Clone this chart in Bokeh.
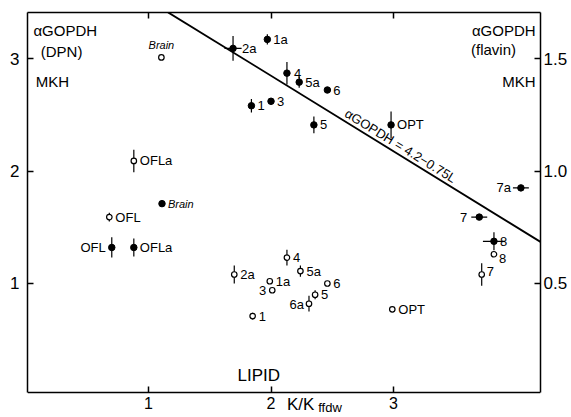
import numpy as np
from bokeh.plotting import figure
from bokeh.models import ColumnDataSource, Range1d, LinearAxis, FixedTicker, Label
from bokeh.core.properties import value
from bokeh.embed import file_html
from bokeh.resources import INLINE

# ---------------- data ----------------
# filled symbols
filled_labels = ["2a", "1a", "4", "5a", "6", "1", "3", "5", "OPT", "7a", "7", "8", "Brain", "OFL", "OFLa"]
filled_x = [1.69, 1.97, 2.13, 2.23, 2.46, 1.84, 2.00, 2.35, 2.98, 4.04, 3.70, 3.82, 1.11, 0.70, 0.88]
filled_y = [3.09, 3.17, 2.87, 2.79, 2.72, 2.58, 2.62, 2.41, 2.41, 1.85, 1.59, 1.375, 1.71, 1.32, 1.32]
filled_xerr = [0.07, 0, 0, 0, 0, 0, 0, 0, 0, 0.065, 0.065, 0.09, 0, 0, 0]
filled_yerr = [0.11, 0.045, 0.10, 0.05, 0, 0.06, 0.03, 0.075, 0.12, 0, 0, 0.08, 0, 0.09, 0.08]

# open symbols
open_labels = ["Brain", "OFLa", "OFL", "2a", "4", "5a", "1a", "3", "6", "5", "6a", "1", "OPT", "8", "7"]
open_x = [1.105, 0.88, 0.68, 1.70, 2.13, 2.24, 1.99, 2.01, 2.46, 2.36, 2.31, 1.85, 2.99, 3.82, 3.72]
open_y = [3.01, 2.09, 1.59, 1.08, 1.23, 1.11, 1.02, 0.94, 1.00, 0.90, 0.82, 0.71, 0.77, 1.26, 1.08]
open_yerr = [0, 0.10, 0.04, 0.08, 0.07, 0.05, 0, 0, 0, 0.04, 0.07, 0.03, 0, 0, 0.10]

# regression line end points (left axis units)
fit_x = [1.16, 4.20]
fit_y = [3.41, 1.37]
fit_text = "\u03b1GOPDH = 4.2\u22120.75L"

bottom_ticks = [1, 2, 3]
left_ticks = [1, 2, 3]
right_ticks = [0.5, 1.0, 1.5]
right_tick_labels = ["0.5", "1.0", "1.5"]

# ---------------- figure ----------------
FONT = "Liberation Sans"
W, H = 571, 417
BL, BR, BT = 27, 31, 12
X0, X1 = 0.012, 4.20          # visible x extent of the box
Y0, Y1 = 0.031, 3.409         # visible y extent of the box (left axis units)
PX_PER_Y = 112.5
Y_EXT = Y0 - 25 / PX_PER_Y    # room under the box for the x tick labels
p = figure(width=W, height=H, output_backend="svg", toolbar_location=None,
           x_range=Range1d(X0, X1), y_range=Range1d(Y_EXT, Y1),
           x_axis_location=None, y_axis_location=None,
           min_border_left=BL, min_border_right=BR, min_border_top=BT, min_border_bottom=0)
p.background_fill_color = "white"
p.border_fill_color = "white"
p.outline_line_color = None
p.xgrid.visible = False
p.ygrid.visible = False
p.extra_y_ranges = {"right": Range1d(Y_EXT / 2, Y1 / 2)}


def style_axis(ax, size="16px", standoff=3):
    ax.axis_line_color = "black"
    ax.axis_line_width = 1.5
    ax.major_tick_in = 6
    ax.major_tick_out = 0
    ax.major_tick_line_width = 1.5
    ax.minor_tick_line_color = None
    ax.major_label_text_font = FONT
    ax.major_label_text_font_size = size
    ax.major_label_text_color = "black"
    ax.major_label_standoff = standoff


bx = LinearAxis(ticker=FixedTicker(ticks=bottom_ticks), fixed_location=Y0, bounds=(X0, X1))
style_axis(bx, "16px", 4)
p.add_layout(bx, "below")

lx = LinearAxis(ticker=FixedTicker(ticks=left_ticks), bounds=(Y0, Y1))
style_axis(lx, "17px", 8)
p.add_layout(lx, "left")

tx = LinearAxis(ticker=FixedTicker(ticks=bottom_ticks))
style_axis(tx, "8px", 0)
tx.major_label_overrides = {t: "" for t in bottom_ticks}
p.add_layout(tx, "above")

rx = LinearAxis(y_range_name="right", ticker=FixedTicker(ticks=right_ticks), bounds=(Y0 / 2, Y1 / 2))
style_axis(rx, "17px", 3)
rx.major_label_overrides = {t: s for t, s in zip(right_ticks, right_tick_labels)}
p.add_layout(rx, "right")

# ---------------- regression line ----------------
p.line(fit_x, fit_y, line_color="black", line_width=1.8)

# equation written along the line
fw = W - BL - BR
sx_per_unit = fw / (X1 - X0)
slope = (fit_y[1] - fit_y[0]) / (fit_x[1] - fit_x[0])
ang = np.arctan(slope * PX_PER_Y / sx_per_unit)
tx0 = 2.58
ty0 = fit_y[0] + slope * (tx0 - fit_x[0])
p.text(x=[tx0], y=[ty0], text=[fit_text], angle=ang, text_align="left",
       text_baseline="bottom", y_offset=-1, text_font=value(FONT),
       text_font_size="13px", text_color="black")

# ---------------- error bars ----------------
fx = np.array(filled_x); fy = np.array(filled_y)
fxe = np.array(filled_xerr); fye = np.array(filled_yerr)
m = fye > 0
p.segment(fx[m], fy[m] - fye[m], fx[m], fy[m] + fye[m], line_color="black", line_width=1.2)
m = fxe > 0
p.segment(fx[m] - fxe[m], fy[m], fx[m] + fxe[m], fy[m], line_color="black", line_width=1.2)

ox = np.array(open_x); oy = np.array(open_y); oye = np.array(open_yerr)
m = oye > 0
p.segment(ox[m], oy[m] - oye[m], ox[m], oy[m] + oye[m], line_color="black", line_width=1.2)

# ---------------- markers ----------------
p.scatter(filled_x, filled_y, marker="circle", size=6.5, fill_color="black", line_color="black")
p.scatter(open_x, open_y, marker="circle", size=5.5, fill_color="white", line_color="black", line_width=1.2)

# ---------------- point labels ----------------
def label_source(names, xs, ys, left=(), special=None):
    special = special or {}
    d = dict(x=[], y=[], t=[], xo=[], yo=[], al=[], fs=[], st=[])
    for n, x, y in zip(names, xs, ys):
        d["x"].append(x); d["y"].append(y); d["t"].append(n)
        if n in special:
            xo, yo, al = special[n]
        elif n in left:
            xo, yo, al = -6, 0, "right"
        else:
            xo, yo, al = 6, 0, "left"
        d["xo"].append(xo); d["yo"].append(yo); d["al"].append(al)
        d["fs"].append("11px" if n == "Brain" else "13px")
        d["st"].append("italic" if n == "Brain" else "normal")
    return ColumnDataSource(d)


src_f = label_source(filled_labels, filled_x, filled_y,
                     left=("7a", "7", "OFL"),
                     special={"7a": (-10, 0, "right"), "7": (-12, 0, "right"),
                              "2a": (9, 0, "left"), "4": (7, 0, "left")})
src_o = label_source(open_labels, open_x, open_y,
                     left=("3", "6a"),
                     special={"Brain": (0, -12, "center"), "8": (5, 4, "left"),
                              "7": (5, -3, "left"), "6a": (-5, 1, "right")})
for src in (src_f, src_o):
    p.text(x="x", y="y", text="t", x_offset="xo", y_offset="yo", text_align="al",
           text_baseline="middle", text_font=value(FONT), text_font_size="fs",
           text_font_style="st", text_color="black", source=src)

# ---------------- annotations ----------------
def lab(x, y, t, size="15px", align="left", baseline="middle", **kw):
    p.add_layout(Label(x=x, y=y, text=t, text_font=FONT, text_font_size=size,
                       text_align=align, text_baseline=baseline, text_color="black", **kw))


lab(0.06, 3.25, "\u03b1GOPDH")
lab(0.12, 3.06, "(DPN)")
lab(0.08, 2.80, "MKH")
lab(4.16, 3.25, "\u03b1GOPDH", align="right")
lab(4.00, 3.08, "(flavin)", align="right")
lab(4.16, 2.80, "MKH", align="right")
lab(1.90, 0.18, "LIPID", size="17px", align="center")

# x-axis title beside the "2" tick label
lab(2.13, Y0 - 12 / PX_PER_Y, "K/K", size="17px")
lab(2.385, Y0 - 15 / PX_PER_Y, "ffdw", size="13px")

open("out.html", "w").write(file_html(p, INLINE))
